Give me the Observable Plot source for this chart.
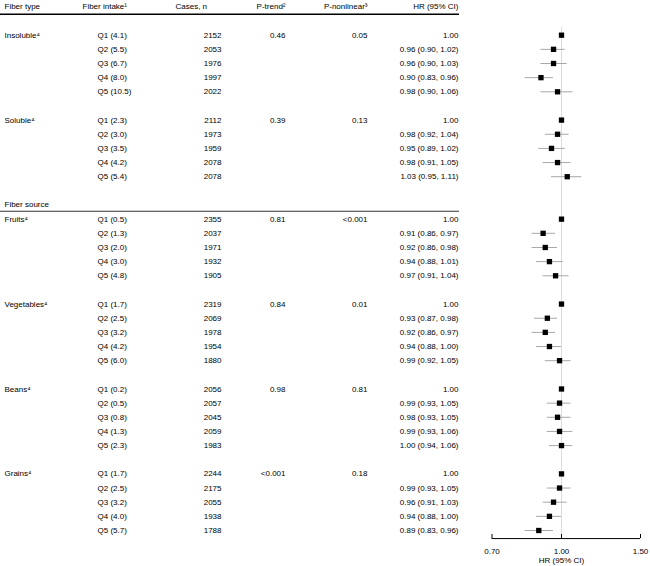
<!DOCTYPE html>
<html><head><meta charset="utf-8">
<script src="https://cdn.jsdelivr.net/npm/d3@7"></script>
<script src="https://cdn.jsdelivr.net/npm/@observablehq/plot@0.6"></script>
<style>body{margin:0;background:#fff}</style>
</head><body><div id="chart"></div>
<script>
const groups = ["Insoluble⁴", "Soluble⁴", "Fruits⁴", "Vegetables⁴", "Beans⁴", "Grains⁴"];
const intakeLabels = [
  ["Q1 (4.1)", "Q2 (5.5)", "Q3 (6.7)", "Q4 (8.0)", "Q5 (10.5)"],
  ["Q1 (2.3)", "Q2 (3.0)", "Q3 (3.5)", "Q4 (4.2)", "Q5 (5.4)"],
  ["Q1 (0.5)", "Q2 (1.3)", "Q3 (2.0)", "Q4 (3.0)", "Q5 (4.8)"],
  ["Q1 (1.7)", "Q2 (2.5)", "Q3 (3.2)", "Q4 (4.2)", "Q5 (6.0)"],
  ["Q1 (0.2)", "Q2 (0.5)", "Q3 (0.8)", "Q4 (1.3)", "Q5 (2.3)"],
  ["Q1 (1.7)", "Q2 (2.5)", "Q3 (3.2)", "Q4 (4.0)", "Q5 (5.7)"]
];
const cases = [
  [2152, 2053, 1976, 1997, 2022],
  [2112, 1973, 1959, 2078, 2078],
  [2355, 2037, 1971, 1932, 1905],
  [2319, 2069, 1978, 1954, 1880],
  [2056, 2057, 2045, 2059, 1983],
  [2244, 2175, 2055, 1938, 1788]
];
const pTrend = ["0.46", "0.39", "0.81", "0.84", "0.98", "<0.001"];
const pNonlinear = ["0.05", "0.13", "<0.001", "0.01", "0.81", "0.18"];
const hr = [
  [1.00, 0.96, 0.96, 0.90, 0.98],
  [1.00, 0.98, 0.95, 0.98, 1.03],
  [1.00, 0.91, 0.92, 0.94, 0.97],
  [1.00, 0.93, 0.92, 0.94, 0.99],
  [1.00, 0.99, 0.98, 0.99, 1.00],
  [1.00, 0.99, 0.96, 0.94, 0.89]
];
const ciLow = [
  [null, 0.90, 0.90, 0.83, 0.90],
  [null, 0.92, 0.89, 0.91, 0.95],
  [null, 0.86, 0.86, 0.88, 0.91],
  [null, 0.87, 0.86, 0.88, 0.92],
  [null, 0.93, 0.93, 0.93, 0.94],
  [null, 0.93, 0.91, 0.88, 0.83]
];
const ciHigh = [
  [null, 1.02, 1.03, 0.96, 1.06],
  [null, 1.04, 1.02, 1.05, 1.11],
  [null, 0.97, 0.98, 1.01, 1.04],
  [null, 0.98, 0.97, 1.00, 1.05],
  [null, 1.05, 1.05, 1.06, 1.06],
  [null, 1.05, 1.03, 1.00, 0.96]
];
const headers = ["Fiber type", "Fiber intake¹", "Cases, n", "P-trend²", "P-nonlinear³", "HR (95% CI)"];
const sectionLabel = "Fiber source";
const tickValues = [0.70, 1.00, 1.50];
const tickLabels = ["0.70", "1.00", "1.50"];
const axisTitle = "HR (95% CI)";

// build rows
const rows = [];
const groupRows = [];
groups.forEach((g, gi) => {
  const start = gi * 6 + (gi >= 2 ? 1 : 0);
  groupRows.push({label: g, row: start, pt: pTrend[gi], pn: pNonlinear[gi]});
  for (let q = 0; q < 5; q++) {
    const h = hr[gi][q], lo = ciLow[gi][q], hi = ciHigh[gi][q];
    rows.push({
      row: start + q,
      intake: intakeLabels[gi][q],
      cases: String(cases[gi][q]),
      hr: h, lo, hi,
      label: lo == null ? h.toFixed(2) : `${h.toFixed(2)} (${lo.toFixed(2)}, ${hi.toFixed(2)})`
    });
  }
});

const headerRow = -2.05, headerLine = -1.48, sectionRow = 11.93, sectionLine = 12.44;
const axisRow = 35.57, tickLabelRow = 36.5, titleRow = 37.1;
const fs = 8;
const col = {type: 4, intake: 82, intakeVal: 97, casesH: 175, casesVal: 221, pt: 285, pn: 367, hr: 458};
const W = 650;

const chart = Plot.plot({
  width: W, height: 566,
  marginLeft: 0, marginRight: 0, marginTop: 0, marginBottom: 0,
  style: {fontFamily: "'Liberation Sans', Arial, sans-serif", fontSize: "8px", background: "#fff", color: "#000"},
  x: {type: "log", domain: [0.7, 1.5], range: [491.5, 640], axis: null},
  y: {type: "linear", domain: [0, 35], range: [34.7, 530], axis: null},
  marks: [
    // reference line at HR = 1
    Plot.ruleX([1], {y1: -0.54, y2: axisRow, stroke: "#dcdcdc", strokeWidth: 1}),
    // header line and section line
    Plot.ruleY([headerLine], {stroke: "#000", strokeWidth: 1.6, insetRight: W - 459}),
    Plot.ruleY([sectionLine], {stroke: "#333", strokeWidth: 1, insetRight: W - 459}),
    // header texts
    Plot.text([headers[0]], {y: () => headerRow, frameAnchor: "left", dx: col.type, textAnchor: "start", fontSize: fs}),
    Plot.text([headers[1]], {y: () => headerRow, frameAnchor: "left", dx: col.intake, textAnchor: "start", fontSize: fs}),
    Plot.text([headers[2]], {y: () => headerRow, frameAnchor: "left", dx: col.casesH, textAnchor: "start", fontSize: fs}),
    Plot.text([headers[3]], {y: () => headerRow, frameAnchor: "left", dx: col.pt, textAnchor: "end", fontSize: fs}),
    Plot.text([headers[4]], {y: () => headerRow, frameAnchor: "left", dx: col.pn, textAnchor: "end", fontSize: fs}),
    Plot.text([headers[5]], {y: () => headerRow, frameAnchor: "left", dx: col.hr, textAnchor: "end", fontSize: fs}),
    // section label
    Plot.text([sectionLabel], {y: () => sectionRow, frameAnchor: "left", dx: col.type, textAnchor: "start", fontSize: fs}),
    // group labels and p-values
    Plot.text(groupRows, {y: "row", text: "label", frameAnchor: "left", dx: col.type, textAnchor: "start", fontSize: fs}),
    Plot.text(groupRows, {y: "row", text: "pt", frameAnchor: "left", dx: col.pt, textAnchor: "end", fontSize: fs}),
    Plot.text(groupRows, {y: "row", text: "pn", frameAnchor: "left", dx: col.pn, textAnchor: "end", fontSize: fs}),
    // row texts
    Plot.text(rows, {y: "row", text: "intake", frameAnchor: "left", dx: col.intakeVal, textAnchor: "start", fontSize: fs}),
    Plot.text(rows, {y: "row", text: "cases", frameAnchor: "left", dx: col.casesVal, textAnchor: "end", fontSize: fs}),
    Plot.text(rows, {y: "row", text: "label", frameAnchor: "left", dx: col.hr, textAnchor: "end", fontSize: fs}),
    // CI lines
    Plot.ruleY(rows.filter(d => d.lo != null), {y: "row", x1: "lo", x2: "hi", stroke: "#a8a8a8", strokeWidth: 1}),
    // point estimates
    Plot.dot(rows, {x: "hr", y: "row", symbol: "square", r: 3.0, fill: "#000", stroke: null}),
    // axis
    Plot.ruleY([axisRow], {x1: () => d3.min(tickValues), x2: () => d3.max(tickValues), stroke: "#000", strokeWidth: 1}),
    Plot.ruleX(tickValues, {x: d => d, y1: 35.28, y2: axisRow, stroke: "#000", strokeWidth: 1}),
    Plot.text(tickValues, {x: d => d, y: () => tickLabelRow, text: (d, i) => tickLabels[i], fontSize: fs}),
    Plot.text([axisTitle], {x: () => 1, y: () => titleRow, fontSize: fs})
  ]
});
document.getElementById("chart").appendChild(chart);
</script>
</body></html>
